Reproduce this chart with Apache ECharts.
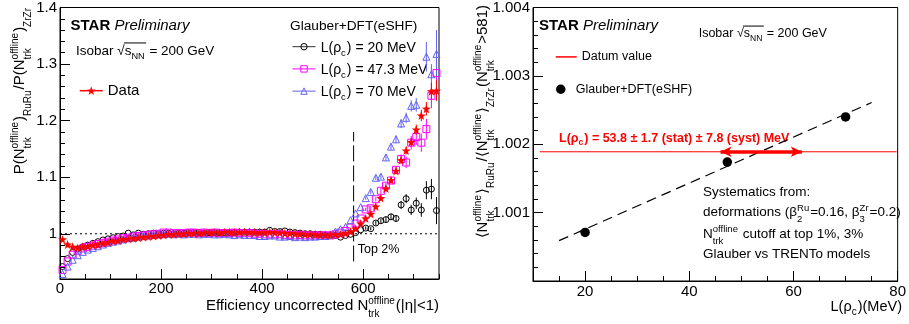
<!DOCTYPE html>
<html><head><meta charset="utf-8">
<script src="https://cdn.jsdelivr.net/npm/echarts@6.0.0/dist/echarts.min.js"></script>
<style>html,body{margin:0;padding:0;background:#fff;}#c{width:909px;height:324px;}</style>
</head><body><div id="c"></div>
<script>
// ---------------- data (left panel) ----------------
const nTrk = [5,15,25,35,45,55,65,75,85,95,105,115,125,135,145,155,165,175,185,195,205,215,225,235,245,255,265,275,285,295,305,315,325,335,345,355,365,375,385,395,405,415,425,435,445,455,465,475,485,495,505,515,525,535,545,555,565,575,585,595,605,615,625,635,645,655,665,675,685,695,705,715,725,735,745];
const dataRatio = [0.990,0.981,0.977,0.975,0.977,0.978,0.980,0.981,0.983,0.985,
 0.987,0.988,0.990,0.991,0.992,0.993,0.994,0.995,0.996,0.997,
 0.998,0.999,0.999,1.000,1.000,1.001,1.001,1.001,1.002,1.002,
 1.002,1.002,1.003,1.003,1.002,1.003,1.003,1.003,1.002,1.002,
 1.002,1.003,1.002,1.002,1.001,1.001,1.000,1.000,0.999,0.999,
 0.999,0.998,0.998,0.998,0.999,0.999,1.001,1.004,1.009,1.018,
 1.027,1.035,1.048,1.063,1.080,1.095,1.111,1.130,1.147,1.162,
 1.184,1.209,1.221,1.252,1.253];
const model20 = [0.942,0.956,0.967,0.973,0.977,0.980,0.983,0.986,0.989,0.991,
 0.993,0.995,0.996,1.001,0.998,1.001,0.999,1.000,1.001,1.000,
 1.001,1.001,1.000,1.001,1.001,1.002,1.002,1.002,1.001,1.002,
 1.002,1.002,1.002,1.002,1.002,1.003,1.003,1.003,1.003,1.003,
 1.003,1.006,1.004,1.004,1.005,1.003,1.002,1.001,1.000,1.000,
 0.999,0.999,0.998,0.998,0.997,0.994,0.997,0.999,1.002,1.007,
 1.010,1.009,1.019,1.023,1.025,1.030,1.027,1.051,1.062,1.042,
 1.054,1.042,1.077,1.079,1.041];
const model47 = [0.936,0.951,0.963,0.970,0.974,0.977,0.979,0.982,0.984,0.986,
 0.988,0.990,0.992,0.993,0.995,0.996,0.997,0.998,0.999,1.000,
 1.002,1.002,1.001,1.001,1.001,1.002,1.002,1.001,1.002,1.001,
 1.002,1.001,1.001,1.001,1.002,1.001,1.001,1.001,1.000,1.000,
 0.999,0.999,0.999,0.999,0.998,0.998,0.997,0.998,0.997,0.997,
 0.997,0.997,0.997,0.997,0.999,1.002,1.005,1.011,1.018,1.027,
 1.043,1.045,1.061,1.076,1.085,1.094,1.113,1.132,1.126,1.161,
 1.171,1.161,1.185,1.244,1.284];
const model70 = [0.929,0.942,0.954,0.962,0.968,0.972,0.975,0.978,0.981,0.984,
 0.986,0.988,0.990,0.992,0.993,0.995,0.996,0.997,0.998,0.999,
 0.999,1.000,0.999,1.000,0.999,1.000,1.000,0.999,1.000,1.000,
 0.999,0.999,1.000,0.999,0.998,0.999,0.998,0.998,0.998,0.996,
 0.996,0.997,0.997,0.995,0.995,0.996,0.994,0.995,0.994,0.995,
 0.995,0.996,0.996,0.998,1.004,1.008,1.012,1.024,1.036,1.047,
 1.063,1.074,1.099,1.101,1.135,1.154,1.167,1.195,1.205,1.226,
 1.228,null,1.313,1.282,1.318];
// statistical errors for the tail bins (N = 605 ... 745)
const errStartN = 605;
const dataErr = [0.003,0.003,0.004,0.004,0.005,0.005,0.006,0.006,0.007,0.008,0.009,0.010,0.012,0.015,0.018];
const err20 = [0.003,0.003,0.004,0.004,0.005,0.005,0.006,0.007,0.008,0.009,0.010,0.012,0.016,0.018,0.024];
const err47 = [0.003,0.004,0.004,0.005,0.005,0.006,0.007,0.008,0.010,0.012,0.014,0.016,0.018,0.022,0.028];
const err70 = [0.003,0.004,0.004,0.005,0.006,0.006,0.007,0.008,0.009,0.010,0.012,0.014,0.026,0.018,0.042];
const refLevel = 1;
const leftXRange = [0, 750];
const cutN = 581;
const cutYRange = [0.951, 1.18];
const leftXTicks = [0, 200, 400, 600];
const leftYTicks = [1, 1.1, 1.2, 1.3, 1.4];

// ---------------- data (right panel) ----------------
const modelL = [20, 47.3, 70];
const modelMeanRatio = [1.00071, 1.00174, 1.00240];
const fitL = [15, 75];
const fitRatio = [1.00059, 1.00261];
const datumValue = 1.00189;
const datumSpan = [11.3, 79.8];
const datumL = 53.8, datumSyst = 7.8;
const rightXTicks = [20, 40, 60, 80];
const rightYTicks = [1.001, 1.002, 1.003, 1.004];

// ---------------- text helpers ----------------
const FONT = '"Liberation Sans", Arial, Helvetica, sans-serif';
const mctx = document.createElement('canvas').getContext('2d');
function fstr(sz, b, it){ return (it?'italic ':'') + (b?'bold ':'') + sz + 'px ' + FONT; }
function tw(s, sz, b, it){ mctx.font = fstr(sz,b,it); return mctx.measureText(s).width; }
function piece(s, x, base, sz, b, it, col){
  return {type:'text', x:x, y: base - 0.3465*sz, silent:true,
    style:{text:s, fontFamily:FONT, fontSize:sz, fontWeight: b?'bold':'normal', fontStyle: it?'italic':'normal',
      fill:col, align:'left', verticalAlign:'middle', legacy:false}};
}
function build(tokens, o){
  const S=o.size, s=o.script||Math.round(S*0.68*10)/10, col=o.color||'#000';
  const els=[]; let x=0;
  for (const tk of tokens){
    if (typeof tk==='string' || tk.t!==undefined){
      const t = typeof tk==='string'? tk : tk.t;
      const b = (typeof tk!=='string' && tk.bold!==undefined)? tk.bold : !!o.bold;
      const it = (typeof tk!=='string' && tk.italic!==undefined)? tk.italic : !!o.italic;
      els.push(piece(t,x,0,S,b,it,col)); x+=tw(t,S,b,it);
    } else if (tk.sqrt){
      els.push(piece('√',x,0,S,!!o.bold,!!o.italic,col)); x+=tw('√',S,!!o.bold,!!o.italic);
      const x0=x; const r=build(tk.sqrt,o);
      r.els.forEach(e=>{ e.x+=x0; els.push(e); }); x+=r.width;
      els.push({type:'line', silent:true, shape:{x1:x0-0.8, y1:-0.93*S, x2:x+0.5, y2:-0.93*S}, style:{stroke:col, lineWidth:1}});
    } else {
      let w=0; const stacked = tk.sup!=null && tk.sub!=null;
      if (tk.sup!=null){ els.push(piece(tk.sup,x,-(tk.u||0.45)*S,s,!!o.bold,!!o.italic,col)); w=Math.max(w,tw(tk.sup,s,!!o.bold,!!o.italic)); }
      if (tk.sub!=null){ els.push(piece(tk.sub,x,(tk.d||(stacked?0.42:0.3))*S,s,!!o.bold,!!o.italic,col)); w=Math.max(w,tw(tk.sub,s,!!o.bold,!!o.italic)); }
      x+=w+1;
    }
  }
  return {els, width:x};
}
function label(tokens, o, x, y, align, rot){
  const r=build(tokens,o);
  const off = align==='right'? -r.width : (align==='center'? -r.width/2 : 0);
  r.els.forEach(e=>{ if(e.type==='line'){ e.shape.x1+=off; e.shape.x2+=off; } else e.x+=off; });
  return {type:'group', x:x, y:y, rotation: rot||0, silent:true, children:r.els};
}

// ---------------- axes ----------------
function minorAxis(grid, min, max, step, pos){
  return {type:'value', gridIndex:grid, min:min, max:max, interval:step, position:pos,
    axisLine:{show:true, onZero:false, lineStyle:{color:'#000', width:1}},
    axisTick:{show:true, inside:true, length:5, lineStyle:{color:'#000', width:1}},
    axisLabel:{show:false}, splitLine:{show:false}};
}
function majorAxis(grid, min, max, vals, pos, margin, fmt){
  const a = {type:'value', gridIndex:grid, min:min, max:max, position:pos,
    axisLine:{show:false, onZero:false},
    axisTick:{show:true, inside:true, length:10, customValues:vals, lineStyle:{color:'#000', width:1}},
    axisLabel:{show:true, customValues:vals, color:'#000', fontFamily:FONT, fontSize:15, margin:margin, showMinLabel:true, showMaxLabel:true},
    splitLine:{show:false}};
  if (fmt) a.axisLabel.formatter = fmt;
  return a;
}

// ---------------- series helpers ----------------
const pairs = (xs, ys) => xs.map((x,i)=>[x, ys[i]]);
function errSeries(vals, errs, color){
  const i0 = nTrk.indexOf(errStartN);
  const d = errs.map((e,k)=>[nTrk[i0+k], vals[i0+k], e]).filter(p=>p[1]!=null);
  return {type:'custom', xAxisIndex:0, yAxisIndex:0, data:d, silent:true, clip:true,
    renderItem:(p,api)=>{
      const x=api.value(0), y=api.value(1), e=api.value(2);
      const a=api.coord([x,y-e]), b=api.coord([x,y+e]);
      return {type:'line', shape:{x1:a[0],y1:a[1],x2:b[0],y2:b[1]}, style:{stroke:color, lineWidth:1}};
    }};
}
function pointSeries(name, vals, color, symbol, size, filled){
  return {type:'line', name:name, xAxisIndex:0, yAxisIndex:0, data:pairs(nTrk, vals),
    symbol:symbol, symbolSize:size, showSymbol:true, showAllSymbol:true, connectNulls:false,
    lineStyle:{width:0, opacity:0, color:color},
    itemStyle: filled ? {color:color} : {color:'rgba(0,0,0,0)', borderColor:color, borderWidth:1},
    emphasis:{disabled:true}, silent:true, z:3};
}
const STAR = 'path://M0,-10L2.35,-3.24L9.51,-3.09L3.8,1.24L5.88,8.09L0,4L-5.88,8.09L-3.8,1.24L-9.51,-3.09L-2.35,-3.24Z';
const C20 = '#000000', C47 = '#ff00ff', C70 = '#6262f2', CRED = '#ff0000';

const series = [
  {type:'line', xAxisIndex:0, yAxisIndex:0, data:[[leftXRange[0],refLevel],[leftXRange[1],refLevel]], symbol:'none', silent:true,
   lineStyle:{color:'#000', width:1, type:[2,3]}, z:1},
  {type:'line', xAxisIndex:0, yAxisIndex:0, data:[[cutN,cutYRange[0]],[cutN,cutYRange[1]]], symbol:'none', silent:true,
   lineStyle:{color:'#000', width:1, type:[16,4]}, z:1},
  errSeries(model20, err20, C20),
  pointSeries('L20', model20, C20, 'circle', 6, false),
  errSeries(model47, err47, C47),
  pointSeries('L47', model47, C47, 'rect', 7, false),
  errSeries(model70, err70, C70),
  pointSeries('L70', model70, C70, 'triangle', 7, false),
  errSeries(dataRatio, dataErr, CRED),
  pointSeries('Data', dataRatio, CRED, STAR, 9, true),
  // right panel
  {type:'line', name:'Datum value', xAxisIndex:2, yAxisIndex:2, data:[[datumSpan[0],datumValue],[datumSpan[1],datumValue]],
   symbol:'none', silent:true, lineStyle:{color:CRED, width:1}, itemStyle:{color:CRED}, z:2,
   markLine:{silent:true, symbol:['arrow','arrow'], symbolSize:[8,11], label:{show:false}, animation:false,
     lineStyle:{color:CRED, width:3.5, type:'solid'},
     data:[[{coord:[datumL-datumSyst, datumValue]},{coord:[datumL+datumSyst, datumValue]}]]}},
  {type:'line', xAxisIndex:2, yAxisIndex:2, data:pairs(fitL, fitRatio), symbol:'none', silent:true,
   lineStyle:{color:'#000', width:1.2, type:[10,6]}, z:2},
  {type:'scatter', name:'Glauber+DFT(eSHF)', xAxisIndex:2, yAxisIndex:2, data:pairs(modelL, modelMeanRatio),
   symbol:'circle', symbolSize:9.5, itemStyle:{color:'#000', opacity:1}, silent:true, z:3}
];

// ---------------- texts ----------------
const HALF = Math.PI/2;
const graphics = [
  // left panel
  label([{t:'STAR', bold:true}, {t:' Preliminary', italic:true}], {size:15}, 70.5, 31),
  label(['Isobar ', {sqrt:['s', {sub:'NN', d:0.3}]}, ' = 200 GeV'], {size:13.5}, 76, 55.5),
  label(['Glauber+DFT(eSHF)'], {size:13.7}, 290, 31),
  label(['L(ρ', {sub:'c', d:0.25}, ') = 20 MeV'], {size:14}, 320.7, 53.3),
  label(['L(ρ', {sub:'c', d:0.25}, ') = 47.3 MeV'], {size:14}, 320.7, 75),
  label(['L(ρ', {sub:'c', d:0.25}, ') = 70 MeV'], {size:14}, 320.7, 96.7),
  label(['Top 2%'], {size:12.5}, 357.7, 254),
  label(['P(N', {sup:'offline', sub:'trk'}, ')', {sub:'RuRu', d:0.42}, '/P(N', {sup:'offline', sub:'trk'}, ')', {sub:'ZrZr', d:0.42}],
        {size:15, script:10}, 25, 7, 'right', HALF),
  label(['Efficiency uncorrected N', {sup:'offline', sub:'trk'}, '(|η|<1)'], {size:15, script:10}, 439, 311.5, 'right'),
  // right panel
  label([{t:'STAR', bold:true}, {t:' Preliminary', italic:true}], {size:15}, 539, 31),
  label(['Isobar ', {sqrt:['s', {sub:'NN', d:0.3}]}, ' = 200 GeV'], {size:12.5}, 698.7, 37.7),
  label(['L(ρ', {sub:'c', d:0.27}, ') = 53.8 ± 1.7 (stat) ± 7.8 (syst) MeV'], {size:12.5, bold:true, color:CRED}, 559, 142.5),
  label(['Systematics from:'], {size:13.5}, 703, 197),
  label(['deformations (β', {sup:'Ru', sub:'2'}, '=0.16, β', {sup:'Zr', sub:'3'}, '=0.2)'], {size:13.5, script:9.5}, 703, 217.3),
  label(['N', {sup:'offline', sub:'trk'}, ' cutoff at top 1%, 3%'], {size:13.5, script:9.5}, 703, 238.7),
  label(['Glauber vs TRENTo models'], {size:13.5}, 703, 258.7),
  label(['⟨N', {sup:'offline', sub:'trk'}, '⟩', {sub:'RuRu', d:0.42}, '/⟨N', {sup:'offline', sub:'trk'}, '⟩', {sub:'ZrZr', d:0.42},
         '(N', {sup:'offline', sub:'trk'}, '>581)'], {size:15, script:10}, 488, 5, 'right', HALF),
  label(['L(ρ', {sub:'c', d:0.25}, ')(MeV)'], {size:14.5, script:10}, 902, 312, 'right')
];

const legendBase = {orient:'vertical', padding:0, selectedMode:false, itemGap:7.2,
  textStyle:{fontFamily:FONT, color:'#000'}};
const option = {
  animation:false,
  backgroundColor:'#fff',
  grid:[
    {left:60, top:6, width:379, height:273, show:true, borderColor:'#000', borderWidth:1, backgroundColor:'rgba(0,0,0,0)'},
    {left:533, top:6, width:369, height:275, show:true, borderColor:'#000', borderWidth:1, backgroundColor:'rgba(0,0,0,0)'}
  ],
  xAxis:[
    minorAxis(0, leftXRange[0], leftXRange[1], 50, 'bottom'),
    majorAxis(0, leftXRange[0], leftXRange[1], leftXTicks, 'bottom', 2),
    minorAxis(1, 10, 80, 5, 'bottom'),
    majorAxis(1, 10, 80, rightXTicks, 'bottom', 3)
  ],
  yAxis:[
    minorAxis(0, 0.92, 1.4, 0.02, 'left'),
    majorAxis(0, 0.92, 1.4, leftYTicks, 'left', 3),
    minorAxis(1, 1.0, 1.004, 0.0002, 'left'),
    majorAxis(1, 1.0, 1.004, rightYTicks, 'left', 3, v=>v.toFixed(3))
  ],
  legend:[
    Object.assign({}, legendBase, {left:79, top:83.2, itemWidth:23, itemHeight:11,
      textStyle:{fontFamily:FONT, color:'#000', fontSize:15},
      data:[{name:'Data', lineStyle:{color:CRED, width:1.5, opacity:1, type:'solid'}, itemStyle:{color:CRED, borderWidth:0, opacity:1}}]}),
    Object.assign({}, legendBase, {left:292, top:39.2, itemWidth:23, itemHeight:8, formatter:()=>' ',
      textStyle:{fontFamily:FONT, color:'#000', fontSize:15},
      data:[
        {name:'L20', lineStyle:{color:'#333', width:1, opacity:1, type:'solid'}, itemStyle:{color:'rgba(0,0,0,0)', borderColor:C20, borderWidth:1, opacity:1}},
        {name:'L47', lineStyle:{color:C47, width:1, opacity:1, type:'solid'}, itemStyle:{color:'rgba(0,0,0,0)', borderColor:C47, borderWidth:1, opacity:1}},
        {name:'L70', lineStyle:{color:C70, width:1, opacity:1, type:'solid'}, itemStyle:{color:'rgba(0,0,0,0)', borderColor:C70, borderWidth:1, opacity:1}}
      ]}),
    Object.assign({}, legendBase, {left:555.7, top:50.4, itemWidth:21, itemHeight:1.5, icon:'rect',
      textStyle:{fontFamily:FONT, color:'#000', fontSize:12.5},
      data:[{name:'Datum value', itemStyle:{color:CRED}}]}),
    Object.assign({}, legendBase, {left:556, top:82.75, itemWidth:20, itemHeight:9.5, icon:'circle',
      textStyle:{fontFamily:FONT, color:'#000', fontSize:12.5},
      data:[{name:'Glauber+DFT(eSHF)', itemStyle:{color:'#000', opacity:1}}]})
  ],
  graphic:graphics,
  series:series
};
const chart = echarts.init(document.getElementById('c'), null, {renderer:'canvas', width:909, height:324});
chart.setOption(option);
</script>
</body></html>
